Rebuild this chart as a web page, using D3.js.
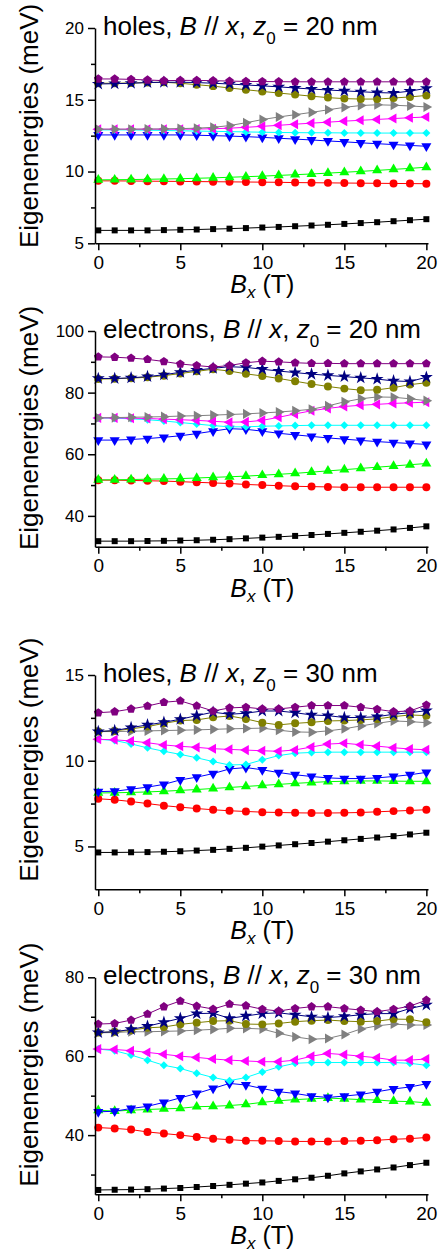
<!DOCTYPE html>
<html><head><meta charset="utf-8">
<script src="https://cdn.jsdelivr.net/npm/d3@7"></script>
<style>
body{margin:0;background:#fff}
svg{display:block}
text{font-family:"Liberation Sans",Arial,Helvetica,sans-serif;fill:#000}
</style>
</head><body>
<svg id="chart" width="443" height="1253"></svg>
<script>
// ---------------- data ----------------
const fieldT = [0,1,2,3,4,5,6,7,8,9,10,11,12,13,14,15,16,17,18,19,20];

const seriesColors = ["#000000","#ff0000","#00ff00","#0000ff","#00ffff","#ff00ff","#808080","#808000","#000080","#800080"];
const seriesShapes = ["square","circle","triUp","triDown","diamond","triLeft","triRight","circle","star","pentagon"];

const holes20 = [
  [5.9,5.9,5.9,5.9,5.92,5.94,5.96,5.99,6.02,6.06,6.1,6.14,6.19,6.24,6.29,6.35,6.41,6.47,6.54,6.61,6.68],
  [9.35,9.35,9.34,9.33,9.32,9.31,9.3,9.29,9.28,9.27,9.26,9.25,9.23,9.22,9.21,9.2,9.19,9.18,9.17,9.16,9.15],
  [9.42,9.43,9.44,9.46,9.48,9.5,9.53,9.56,9.6,9.64,9.68,9.73,9.78,9.83,9.89,9.95,10.01,10.08,10.15,10.22,10.3],
  [12.55,12.55,12.55,12.55,12.55,12.55,12.53,12.5,12.47,12.43,12.38,12.32,12.26,12.2,12.13,12.07,12.0,11.94,11.88,11.82,11.76],
  [12.9,12.9,12.9,12.88,12.86,12.84,12.82,12.8,12.78,12.76,12.74,12.72,12.71,12.7,12.7,12.69,12.69,12.68,12.68,12.68,12.68],
  [12.95,12.95,12.95,12.95,12.95,12.95,12.96,12.98,13.02,13.08,13.15,13.22,13.3,13.37,13.44,13.51,13.57,13.63,13.69,13.75,13.8],
  [12.95,12.95,12.95,12.96,12.97,12.99,13.02,13.08,13.2,13.4,13.62,13.8,13.96,14.12,14.3,14.47,14.6,14.65,14.62,14.57,14.5],
  [16.15,16.15,16.17,16.2,16.22,16.15,16.05,15.95,15.82,15.7,15.58,15.47,15.36,15.25,15.15,15.08,15.05,15.05,15.12,15.2,15.3],
  [16.1,16.12,16.15,16.2,16.22,16.22,16.2,16.15,16.1,16.03,15.97,15.9,15.82,15.75,15.68,15.62,15.56,15.5,15.47,15.6,15.8],
  [16.45,16.45,16.42,16.38,16.33,16.35,16.35,16.33,16.3,16.28,16.27,16.26,16.25,16.25,16.25,16.25,16.25,16.25,16.25,16.25,16.25]
];

const electrons20 = [
  [31.8,31.8,31.8,31.85,31.9,32.0,32.1,32.25,32.45,32.7,32.95,33.2,33.5,33.8,34.15,34.5,34.85,35.2,35.6,36.1,36.6],
  [51.6,51.6,51.5,51.4,51.3,51.1,50.9,50.7,50.5,50.2,50.0,49.8,49.6,49.5,49.4,49.3,49.3,49.3,49.3,49.3,49.3],
  [51.7,51.7,51.8,51.9,52.0,52.1,52.3,52.5,52.7,52.9,53.2,53.5,53.8,54.2,54.6,55.0,55.4,55.8,56.2,56.6,57.0],
  [64.6,64.6,64.8,65.1,65.5,66.0,66.7,67.5,68.3,68.1,67.5,66.8,66.3,65.8,65.3,64.9,64.5,64.1,63.8,63.5,63.2],
  [71.8,71.7,71.5,71.2,70.8,70.3,69.8,69.3,68.9,68.9,69.1,69.2,69.3,69.4,69.4,69.4,69.4,69.4,69.4,69.4,69.4],
  [71.8,71.8,71.7,71.6,71.4,71.2,71.0,70.7,70.4,70.5,71.0,72.0,73.1,74.1,74.9,75.5,75.9,76.2,76.5,76.7,76.9],
  [71.8,71.9,72.0,72.1,72.2,72.4,72.5,72.7,72.9,73.1,73.4,73.7,74.1,74.6,75.7,77.0,78.0,78.6,78.5,78.0,77.4],
  [84.4,84.5,84.7,85.0,85.5,86.2,86.9,87.6,87.0,86.1,85.4,84.6,83.7,82.8,82.0,81.3,80.8,80.9,81.6,82.6,83.2],
  [84.6,84.6,84.8,85.2,85.8,86.6,87.3,87.9,88.4,88.2,87.6,87.0,86.5,86.0,85.6,85.2,84.8,84.4,83.8,83.6,85.0],
  [91.6,91.5,91.2,90.8,90.1,89.3,88.8,88.3,88.8,89.7,90.2,90.0,89.7,89.5,89.5,89.4,89.4,89.4,89.4,89.4,89.4]
];

const holes30 = [
  [4.65,4.65,4.66,4.67,4.69,4.72,4.76,4.8,4.86,4.92,4.99,5.06,5.13,5.2,5.28,5.36,5.44,5.52,5.6,5.7,5.8],
  [7.78,7.72,7.62,7.5,7.38,7.29,7.21,7.14,7.08,7.04,7.0,6.98,6.96,6.95,6.95,6.96,6.98,7.02,7.06,7.1,7.14],
  [8.12,8.13,8.15,8.18,8.22,8.27,8.32,8.38,8.44,8.5,8.56,8.62,8.68,8.73,8.78,8.8,8.82,8.82,8.81,8.8,8.8],
  [8.2,8.22,8.34,8.46,8.62,8.88,9.04,9.25,9.52,9.6,9.47,9.31,9.18,9.08,9.0,8.96,8.96,9.0,9.08,9.18,9.32],
  [11.25,11.18,10.98,10.75,10.55,10.37,10.17,9.95,9.75,9.78,10.05,10.3,10.44,10.48,10.5,10.5,10.5,10.5,10.5,10.5,10.5],
  [11.25,11.22,11.15,11.05,10.92,10.84,10.78,10.7,10.66,10.62,10.58,10.55,10.63,10.8,10.97,11.02,10.93,10.85,10.76,10.68,10.64],
  [11.7,11.7,11.72,11.74,11.76,11.78,11.8,11.83,11.86,11.88,11.9,11.78,11.68,11.66,11.74,11.86,12.03,12.18,12.32,12.28,12.22],
  [11.7,11.74,11.86,11.99,12.18,12.34,12.38,12.53,12.61,12.44,12.22,12.09,12.18,12.24,12.32,12.34,12.38,12.44,12.57,12.67,12.63],
  [11.7,11.76,11.93,12.09,12.24,12.42,12.63,12.83,12.71,12.77,12.9,12.9,12.8,12.67,12.63,12.52,12.52,12.57,12.71,12.8,12.92],
  [12.8,12.86,13.02,13.19,13.41,13.49,13.2,12.9,13.08,13.12,13.02,13.02,13.12,13.22,13.22,13.22,13.12,13.0,12.86,12.9,13.25]
];

const electrons30 = [
  [26.1,26.15,26.2,26.3,26.45,26.6,26.85,27.1,27.4,27.7,28.0,28.4,28.8,29.2,29.7,30.3,30.8,31.3,31.8,32.4,33.0],
  [41.9,41.7,41.4,40.8,40.4,40.0,39.55,39.1,38.85,38.6,38.55,38.5,38.4,38.4,38.4,38.5,38.55,38.7,38.95,39.1,39.4],
  [46.3,46.1,46.3,46.5,46.65,46.8,47.2,47.3,47.5,47.8,48.3,48.7,49.0,49.2,49.4,49.2,49.0,48.9,48.6,48.5,48.2],
  [45.9,46.05,46.75,47.3,48.3,49.44,50.56,51.83,53.1,52.7,51.8,51.0,50.56,49.9,49.55,49.9,50.3,51.0,51.7,52.2,53.0],
  [61.8,61.4,60.3,59.0,57.7,56.9,55.7,54.6,53.8,54.6,56.0,57.3,58.2,58.4,58.4,58.4,58.4,58.4,58.4,58.2,57.7],
  [61.8,61.7,61.4,60.96,60.5,60.0,59.7,59.3,59.0,58.8,58.6,58.6,59.0,60.0,60.7,60.4,60.0,59.6,59.0,59.0,59.3],
  [65.94,66.0,66.2,66.2,66.3,66.4,66.6,66.8,67.06,67.06,66.9,65.8,64.9,64.3,64.5,65.5,66.9,67.7,68.15,67.9,67.9],
  [66.0,66.2,66.6,67.2,67.4,68.07,68.5,68.9,69.0,68.15,68.07,68.3,68.75,69.0,69.16,68.9,68.75,68.9,69.4,69.35,68.6],
  [66.0,66.2,66.8,67.6,68.6,69.6,70.8,70.9,69.6,70.2,70.8,71.0,70.5,70.0,69.8,70.1,70.5,70.8,70.8,72.1,73.0],
  [68.15,68.3,69.16,70.7,72.55,74.0,72.7,71.95,73.2,72.8,71.9,71.45,72.1,72.55,72.55,72.1,71.7,71.3,71.9,72.7,74.2]
];

const panelData = [holes20, electrons20, holes30, electrons30];
const panelCarrier = ["holes", "electrons", "holes", "electrons"];
const panelZ0 = ["20", "20", "30", "30"];
const yDomains = [[5,20],[30,100],[2.5,15],[25,80]];
const yMajorTicks = [[5,10,15,20],[40,60,80,100],[5,10,15],[40,60,80]];
const yMinorTicks = [[7.5,12.5,17.5],[50,70,90],[7.5,12.5],[30,50,70]];
const xMajorTicks = [0,5,10,15,20];
const xMinorTicks = [2.5,7.5,12.5,17.5];
const xDomain = [-0.2, 20.1];

// ---------------- layout ----------------
const layout = [
  {top: 28,    bottom: 243.3,  ytitleY: 248},
  {top: 331,   bottom: 546.7,  ytitleY: 550},
  {top: 675,   bottom: 889.3,  ytitleY: 881.7},
  {top: 977.3, bottom: 1194.3, ytitleY: 1186.7}
];
const axisLeftX = 95, axisRightX = 428;

const svg = d3.select("#chart");
const x = d3.scaleLinear().domain(xDomain).range([axisLeftX, axisRightX]);

// custom pentagon symbol
const symbolPentagon = {
  draw(ctx, size) {
    const r = Math.sqrt(size / (2.5 * Math.sin(2 * Math.PI / 5)));
    for (let i = 0; i < 5; i++) {
      const a = -Math.PI / 2 + i * 2 * Math.PI / 5;
      const px = r * Math.cos(a), py = r * Math.sin(a);
      if (i === 0) ctx.moveTo(px, py); else ctx.lineTo(px, py);
    }
    ctx.closePath();
  }
};
const shapeDefs = {
  square:   {type: d3.symbolSquare,   size: 36, rot: 0},
  circle:   {type: d3.symbolCircle,   size: 50, rot: 0},
  triUp:    {type: d3.symbolTriangle, size: 44, rot: 0},
  triDown:  {type: d3.symbolTriangle, size: 44, rot: 180},
  triLeft:  {type: d3.symbolTriangle, size: 44, rot: -90},
  triRight: {type: d3.symbolTriangle, size: 44, rot: 90},
  diamond:  {type: d3.symbolSquare,   size: 32, rot: 45},
  star:     {type: d3.symbolStar,     size: 52, rot: 0},
  pentagon: {type: symbolPentagon,    size: 50, rot: 0}
};

panelData.forEach((series, p) => {
  const L = layout[p];
  const y = d3.scaleLinear().domain(yDomains[p]).range([L.bottom, L.top]);
  const g = svg.append("g");

  // series lines + markers
  series.forEach((vals, s) => {
    const pts = fieldT.map((t, i) => [t, vals[i]]);
    const color = seriesColors[s];
    g.append("path")
      .datum(pts)
      .attr("fill", "none")
      .attr("stroke", color)
      .attr("stroke-width", 1)
      .attr("d", d3.line().x(d => x(d[0])).y(d => y(d[1])));
    const sd = shapeDefs[seriesShapes[s]];
    const sym = d3.symbol().type(sd.type).size(sd.size);
    g.selectAll(null).data(pts).enter().append("path")
      .attr("d", sym)
      .attr("fill", color)
      .attr("transform", d => `translate(${x(d[0])},${y(d[1])}) rotate(${sd.rot})`);
  });

  // axes
  const styleAxis = sel => {
    sel.selectAll("path,line").attr("stroke", "#000").attr("stroke-width", 1.5);
    sel.selectAll("text").attr("fill", "#000").style("font-family", '"Liberation Sans",Arial,sans-serif');
  };
  const gx = g.append("g").attr("transform", `translate(0,${L.bottom})`)
    .call(d3.axisBottom(x).tickValues(xMajorTicks).tickSize(7).tickPadding(5).tickSizeOuter(0));
  styleAxis(gx);
  gx.selectAll("text").style("font-size", "19px");
  const gxm = g.append("g").attr("transform", `translate(0,${L.bottom})`)
    .call(d3.axisBottom(x).tickValues(xMinorTicks).tickSize(4).tickFormat("").tickSizeOuter(0));
  gxm.select(".domain").remove();
  styleAxis(gxm);

  const gy = g.append("g").attr("transform", `translate(${axisLeftX},0)`)
    .call(d3.axisLeft(y).tickValues(yMajorTicks[p]).tickSize(7).tickPadding(4).tickSizeOuter(0));
  styleAxis(gy);
  gy.selectAll("text").style("font-size", "17px");
  const gym = g.append("g").attr("transform", `translate(${axisLeftX},0)`)
    .call(d3.axisLeft(y).tickValues(yMinorTicks[p]).tickSize(4).tickFormat("").tickSizeOuter(0));
  gym.select(".domain").remove();
  styleAxis(gym);

  // panel title
  const t = g.append("text").attr("x", 103).attr("y", L.top + 7).style("font-size", "26px");
  t.append("tspan").text(panelCarrier[p] + ", ");
  t.append("tspan").attr("font-style", "italic").text("B");
  t.append("tspan").text(" // ");
  t.append("tspan").attr("font-style", "italic").text("x");
  t.append("tspan").text(", ");
  t.append("tspan").attr("font-style", "italic").text("z");
  t.append("tspan").attr("dy", 9).style("font-size", "17px").text("0");
  t.append("tspan").attr("dy", -9).text(" = " + panelZ0[p] + " nm");

  // x title
  const xt = g.append("text").attr("x", (x(0) + x(20)) / 2).attr("y", L.bottom + 50)
    .attr("text-anchor", "middle").style("font-size", "25px");
  xt.append("tspan").attr("font-style", "italic").text("B");
  xt.append("tspan").attr("dy", 5).attr("font-style", "italic").style("font-size", "17px").text("x");
  xt.append("tspan").attr("dy", -5).text(" (T)");

  // y title
  g.append("text")
    .attr("transform", `translate(37.5,${L.ytitleY}) rotate(-90)`)
    .attr("text-anchor", "start")
    .style("font-size", "26px")
    .text("Eigenenergies (meV)");
});
</script>
</body></html>
